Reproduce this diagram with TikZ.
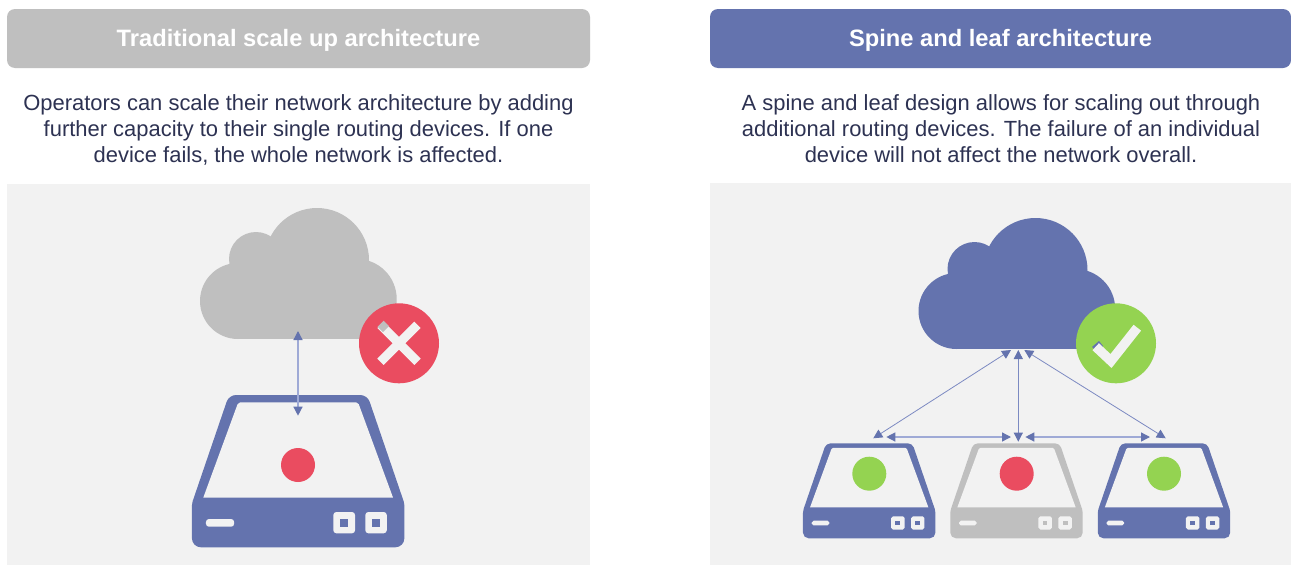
\documentclass[tikz,border=0pt]{standalone}
\usepackage{fontspec}
\setmainfont{Liberation Sans}
\usetikzlibrary{arrows.meta}
\definecolor{panelbg}{HTML}{F2F2F2}
\definecolor{greyc}{HTML}{BFBFBF}
\definecolor{bluec}{HTML}{6473AE}
\definecolor{redc}{HTML}{EA4C60}
\definecolor{greenc}{HTML}{94D351}
\definecolor{textc}{HTML}{2D3252}
\definecolor{linethin}{HTML}{7C8AC2}
\definecolor{linepale}{HTML}{9FAAD6}
\tikzset{
  panel/.style={fill=panelbg,draw=none,inner sep=0pt,anchor=north west},
  headerbar/.style={rounded corners=8pt,draw=none,inner sep=0pt,minimum height=59pt},
  headertext/.style={text=white,inner sep=0pt,text depth=0pt,text height=17pt,font=\fontsize{23.7}{28}\selectfont\bfseries},
  para/.style={align=center,text=textc,inner sep=0pt,font=\fontsize{21.95}{26}\selectfont},
  dot/.style={circle,draw=none,inner sep=0pt,minimum size=34pt},
  badge/.style={circle,draw=none,inner sep=0pt,minimum size=80pt},
  thinlink/.style={draw=linethin,line width=0.8pt,{Triangle[length=9pt,width=9pt,color=bluec]}-{Triangle[length=9pt,width=9pt,color=bluec]}},
  palelink/.style={draw=linepale,line width=1.3pt,{Triangle[length=9pt,width=9pt,color=bluec]}-{Triangle[length=9pt,width=9pt,color=bluec]}},
}
% #1 centre x, #2 bottom y, #3 scale, #4 colour
\newcommand{\serverdraw}[4]{%
  \begin{scope}[shift={(#1,#2)},scale=#3]
    \pgfmathsetmacro{\rb}{9*#3}\pgfmathsetmacro{\rt}{7*#3}\pgfmathsetmacro{\rh}{2*#3}\pgfmathsetmacro{\rs}{3*#3}
    \fill[#4] (0,0) [rounded corners=\rb pt] -- (-106.2,0) [rounded corners=2pt] -- (-106.2,-44) [rounded corners=\rt pt] -- (-69.2,-152.3) -- (69.2,-152.3) [rounded corners=2pt] -- (106.2,-44) [rounded corners=\rb pt] -- (106.2,0) -- cycle;
    \fill[panelbg] (0,-49.6) [sharp corners] -- (-94.9,-49.6) [rounded corners=\rh pt] -- (-59.9,-145) -- (59.9,-145) [sharp corners] -- (94.9,-49.6) -- cycle;
    \fill[panelbg,rounded corners=\rs pt] (-92.2,-28.3) rectangle (-64,-20.6);
    \fill[panelbg,rounded corners=\rs pt] (35.2,-35.3) rectangle (56.9,-14);
    \fill[panelbg,rounded corners=\rs pt] (67.2,-35.3) rectangle (88.6,-14);
    \fill[#4] (41.9,-28.3) rectangle (49.7,-20.6);
    \fill[#4] (73.9,-28.3) rectangle (81.9,-20.6);
  \end{scope}}
% #1 x shift, #2 y shift, #3 colour
\newcommand{\clouddraw}[3]{%
  \begin{scope}[shift={(#1,#2)}]
    \fill[#3] (238,301) circle[radius=38];
    \fill[#3] (356.7,299) circle[radius=40];
    \fill[#3] (256,259) circle[radius=27];
    \fill[#3] (317,260) circle[radius=52];
    \fill[#3] (238,262) rectangle (357,339);
    \fill[#3] (255,240) rectangle (330,265);
  \end{scope}}
\begin{document}
\begin{tikzpicture}[x=1pt,y=-1pt]
\useasboundingbox (0,0) rectangle (1291,565);
\fill[white] (0,0) rectangle (1291,565);
% panels
\node[panel,minimum width=583pt,minimum height=381pt] (panelL) at (7,184) {};
\node[panel,minimum width=581pt,minimum height=382pt] (panelR) at (710,183) {};
% headers
\node[headerbar,fill=greyc,minimum width=583pt] (barL) at (298.5,38.5) {};
\node[headerbar,fill=bluec,minimum width=581pt] (barR) at (1000.5,38.5) {};
\node[headertext] (headL) at (298.5,38) {Traditional scale up architecture};
\node[headertext] (headR) at (1000.5,38) {Spine and leaf architecture};
% paragraphs
\node[para] (paraL) at (298.5,130) {Operators can scale their network architecture by adding\\further capacity to their single routing devices. If one\\device fails, the whole network is affected.};
\node[para] (paraR) at (1001,128.8) {A spine and leaf design allows for scaling out through\\additional routing devices. The failure of an individual\\device will not affect the network overall.};
% left scene
\clouddraw{0}{0}{greyc}
\serverdraw{298.15}{547.3}{1}{bluec}
\node[dot,fill=redc] (dotL) at (298,465) {};
\node[badge,fill=redc] (badgeX) at (399,343.3) {};
\draw[panelbg,line width=9pt] (380.5,324.8) -- (417.5,361.8);
\draw[panelbg,line width=9pt] (417.5,324.8) -- (380.5,361.8);
\fill[greyc] (377.7,326.7) -- (383.7,320.7) -- (389,326) -- (383,332) -- cycle;
\coordinate (upL) at (298,331);
\coordinate (downL) at (298,415.7);
\draw[palelink] (upL) -- (downL);
% right scene
\clouddraw{718.5}{10}{bluec}
\serverdraw{869.2}{538.3}{0.6235}{bluec}
\serverdraw{1016.5}{538.3}{0.6235}{greyc}
\serverdraw{1164}{538.3}{0.6235}{bluec}
\node[dot,fill=greenc] (dotA) at (869.3,473.7) {};
\node[dot,fill=redc] (dotB) at (1016.7,473.7) {};
\node[dot,fill=greenc] (dotC) at (1164,473.7) {};
\node[badge,fill=greenc] (badgeOK) at (1116,343.3) {};
\fill[bluec] (1092,347) -- (1099,341) -- (1103,346) -- (1097,352) -- cycle;
\draw[panelbg,line width=9.5pt,miter limit=10] (1095.7,346.7) -- (1111,361) -- (1137.3,327.7);
\coordinate (c1) at (1011,350);
\coordinate (c2) at (1018.3,350);
\coordinate (c3) at (1024.3,350);
\coordinate (s1) at (873.3,438.3);
\coordinate (s2) at (1018.3,441.7);
\coordinate (s3) at (1165.7,438.3);
\coordinate (h1) at (886.3,437);
\coordinate (h2) at (1011,437);
\coordinate (h3) at (1025.3,437);
\coordinate (h4) at (1150,437);
\draw[thinlink] (c1) -- (s1);
\draw[thinlink] (c2) -- (s2);
\draw[thinlink] (c3) -- (s3);
\draw[palelink] (h1) -- (h2);
\draw[palelink] (h3) -- (h4);
\end{tikzpicture}
\end{document}
